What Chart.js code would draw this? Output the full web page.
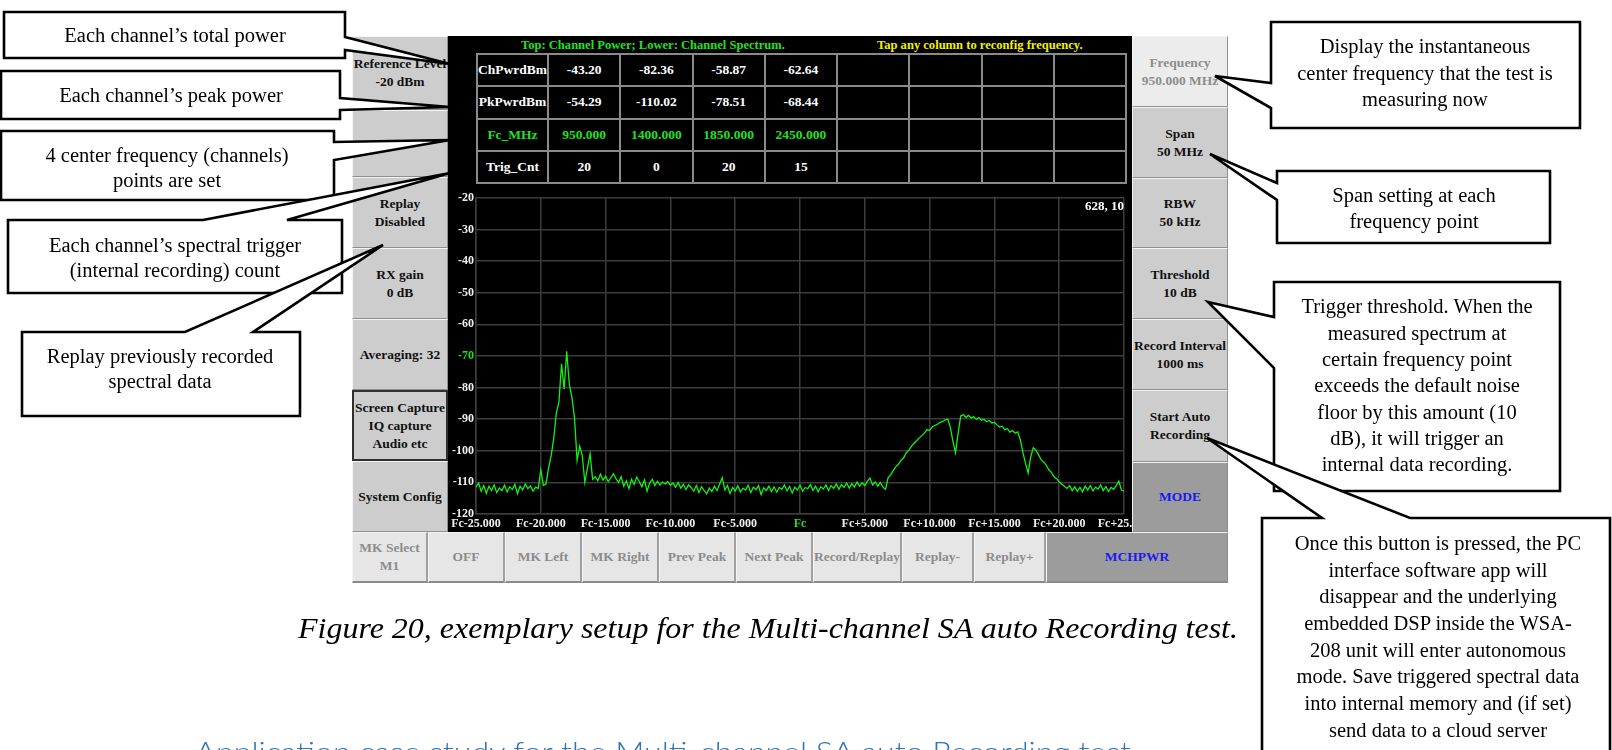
<!DOCTYPE html>
<html><head><meta charset="utf-8">
<script src="https://cdn.jsdelivr.net/npm/chart.js@4.4.1/dist/chart.umd.min.js"></script>
<style>
html,body{margin:0;padding:0;width:1612px;height:750px;overflow:hidden;background:#fff;}
.ui{font-family:'Liberation Serif','Times New Roman',serif;font-weight:bold;}
.btn{position:absolute;box-sizing:border-box;display:flex;flex-direction:column;align-items:center;justify-content:center;text-align:center;font-size:13.5px;line-height:18px;color:#111;background:#cdcdcd;border-top:1px solid #f4f4f4;border-left:1px solid #f4f4f4;border-bottom:1px solid #8f8f8f;border-right:1px solid #8f8f8f;white-space:nowrap;overflow:hidden}
#panel{position:absolute;left:448px;top:36px;width:684px;height:496px;background:#000;}
#hdrG{position:absolute;left:521px;top:37px;height:16px;line-height:16px;font-size:13.5px;color:#22e022;white-space:nowrap;transform:scaleX(0.93);transform-origin:0 0}
#hdrY{position:absolute;left:877px;top:37px;height:16px;line-height:16px;font-size:13.5px;color:#f2f200;white-space:nowrap;transform:scaleX(0.93);transform-origin:0 0}
#tbl{position:absolute;left:476px;top:53px;width:649px;border-collapse:collapse;table-layout:fixed}
#tbl td{border:2px solid #8a8a8a;height:30.3px;padding:0;text-align:center;color:#fff;font-size:13.5px;white-space:nowrap}
#tbl tr.grn td{color:#22e022}
#coord{position:absolute;left:1060px;top:198px;width:64px;text-align:right;font-size:13px;color:#fff;line-height:16px}
#wrap{position:absolute;left:448px;top:186px;width:684px;height:346px;}
svg{position:absolute;left:0;top:0}
</style></head>
<body>
<div id="ui" class="ui"></div>
<div id="panel"></div>
<div id="hdrG" class="ui">Top: Channel Power; Lower: Channel Spectrum.</div>
<div id="hdrY" class="ui">Tap any column to reconfig frequency.</div>
<table id="tbl" class="ui"></table>
<div id="wrap"><canvas id="c" width="684" height="346"></canvas></div>
<div id="coord" class="ui">628, 10</div>
<svg id="ann" width="1612" height="750" xmlns="http://www.w3.org/2000/svg">
<g fill="#fff" stroke="#000" stroke-width="2.6" stroke-linejoin="miter">
<polygon points="4,12 345,12 345,37 450,64 345,50 345,58 4,58"/>
<polygon points="1,71 340,71 340,98 450,107 340,110 340,119 1,119"/>
<polygon points="1,131 334,131 334,142 450,140 334,160 334,200 1,200"/>
<polygon points="8,220 203,220 450,173 287,220 342,220 342,293 8,293"/>
<polygon points="22,332 185,332 383,245 253,332 300,332 300,416 22,416"/>
<polygon points="1271,22 1580,22 1580,128 1271,128 1271,108 1215,76 1271,83"/>
<polygon points="1277,171 1550,171 1550,243 1277,243 1277,200 1210,154 1277,183"/>
<polygon points="1274,282 1560,282 1560,491 1274,491 1274,368 1208,302 1274,317"/>
<polygon points="1262,518 1322,518 1207,438 1410,518 1610,518 1610,770 1262,770"/>
</g>
<g font-family="Liberation Serif, Times New Roman, serif" font-size="20.5" fill="#000" text-anchor="middle">
<text x="175" y="42">Each channel’s total power</text>
<text x="171" y="102">Each channel’s peak power</text>
<text x="167" y="162">4 center frequency (channels)</text>
<text x="167" y="187">points are set</text>
<text x="175" y="252">Each channel’s spectral trigger</text>
<text x="175" y="277">(internal recording) count</text>
<text x="160" y="363">Replay previously recorded</text>
<text x="160" y="388">spectral data</text>
<text x="1425" y="53">Display the instantaneous</text>
<text x="1425" y="80">center frequency that the test is</text>
<text x="1425" y="106">measuring now</text>
<text x="1414" y="202">Span setting at each</text>
<text x="1414" y="228">frequency point</text>
<text x="1417" y="313">Trigger threshold. When the</text>
<text x="1417" y="339.5">measured spectrum at</text>
<text x="1417" y="366">certain frequency point</text>
<text x="1417" y="392">exceeds the default noise</text>
<text x="1417" y="418.5">floor by this amount (10</text>
<text x="1417" y="445">dB), it will trigger an</text>
<text x="1417" y="471">internal data recording.</text>
<text x="1438" y="550">Once this button is pressed, the PC</text>
<text x="1438" y="577">interface software app will</text>
<text x="1438" y="603">disappear and the underlying</text>
<text x="1438" y="630">embedded DSP inside the WSA-</text>
<text x="1438" y="657">208 unit will enter autonomous</text>
<text x="1438" y="683">mode. Save triggered spectral data</text>
<text x="1438" y="710">into internal memory and (if set)</text>
<text x="1438" y="737">send data to a cloud server</text>
</g>
<text x="298" y="638" font-family="Liberation Serif, Times New Roman, serif" font-style="italic" font-size="29" textLength="940" lengthAdjust="spacingAndGlyphs" fill="#000">Figure 20, exemplary setup for the Multi-channel SA auto Recording test.</text>
<text x="195" y="762" font-family="Lato, Open Sans, sans-serif" font-weight="300" font-size="28" textLength="936" lengthAdjust="spacingAndGlyphs" fill="#2e74b5">Application case study for the Multi-channel SA auto Recording test</text>
</svg>
<script>
// ---- spectrum trace (dBm), -25 MHz .. +25 MHz relative to Fc, 0.2 MHz steps ----
const freqStartMHz = -25;
const freqStepMHz = 0.2;
const powerDbm = [
 -111.5,-110.2,-112.8,-111.0,-113.5,
 -111.2,-112.5,-110.8,-113.2,-111.8,
 -112.6,-110.9,-113.0,-111.4,-112.2,
 -110.6,-113.6,-111.2,-112.4,-110.5,
 -112.0,-111.1,-112.8,-111.5,-111.9,
 -106.0,-111.0,-110.5,-105.5,-101.5,
 -96.0,-88.0,-84.5,-72.5,-80.5,
 -68.5,-79.0,-83.0,-89.5,-103.0,
 -98.5,-101.5,-110.0,-105.5,-101.0,
 -109.0,-108.2,-109.5,-107.4,-109.3,
 -108.0,-109.8,-108.6,-107.3,-108.8,
 -110.0,-108.2,-111.2,-109.5,-112.0,
 -109.0,-110.6,-108.3,-109.8,-111.4,
 -109.2,-112.8,-110.2,-109.0,-111.0,
 -109.6,-110.8,-109.9,-110.5,-109.7,
 -110.9,-110.2,-111.5,-110.0,-111.8,
 -110.6,-112.3,-110.8,-111.6,-112.8,
 -111.0,-113.2,-111.4,-112.5,-113.6,
 -111.8,-112.9,-111.2,-112.6,-110.5,
 -108.5,-112.4,-111.0,-113.5,-111.6,
 -112.7,-111.1,-113.0,-111.8,-112.4,
 -110.9,-113.2,-111.5,-112.3,-111.0,
 -113.9,-111.7,-112.6,-111.2,-112.9,
 -111.4,-113.1,-111.6,-112.2,-110.8,
 -112.7,-111.3,-113.4,-111.5,-112.4,
 -110.9,-112.8,-111.6,-112.0,-110.7,
 -112.5,-111.2,-113.0,-111.4,-112.1,
 -110.8,-112.6,-111.0,-111.9,-110.5,
 -112.2,-110.7,-111.6,-110.2,-111.8,
 -110.4,-111.5,-109.9,-111.2,-110.1,
 -111.0,-109.6,-108.6,-110.8,-109.8,
 -111.2,-110.0,-111.5,-112.2,-108.5,
 -107.6,-106.2,-105.0,-104.2,-103.0,
 -102.2,-100.6,-99.8,-98.6,-97.6,
 -96.8,-95.9,-95.2,-94.4,-93.3,
 -93.6,-92.4,-92.0,-91.6,-91.0,
 -90.8,-90.2,-90.0,-92.5,-97.0,
 -100.6,-94.5,-89.0,-88.6,-89.4,
 -88.8,-89.6,-89.2,-90.0,-89.5,
 -90.3,-90.0,-90.8,-90.4,-91.2,
 -91.0,-91.8,-92.5,-92.2,-93.3,
 -93.0,-94.1,-93.6,-94.4,-94.0,
 -96.5,-100.5,-104.0,-107.0,-102.0,
 -99.0,-99.8,-101.2,-102.8,-103.6,
 -104.5,-106.0,-106.8,-108.2,-108.8,
 -109.8,-110.6,-111.2,-111.9,-111.0,
 -112.6,-111.4,-112.8,-111.6,-113.0,
 -111.2,-112.4,-111.0,-112.7,-111.5,
 -112.1,-110.8,-112.6,-111.3,-112.9,
 -111.6,-112.2,-111.0,-109.6,-112.4,
 -112.8
];
const xTickValues = [-25,-20,-15,-10,-5,0,5,10,15,20,25];
const xTickLabels = ['Fc-25.000','Fc-20.000','Fc-15.000','Fc-10.000','Fc-5.000','Fc','Fc+5.000','Fc+10.000','Fc+15.000','Fc+20.000','Fc+25.000'];
const yTickValues = [-120,-110,-100,-90,-80,-70,-60,-50,-40,-30,-20];
const yTickLabels = ['-120','-110','-100','-90','-80','-70','-60','-50','-40','-30','-20'];

// ---- channel table ----
const tableRowNames = ['ChPwrdBm','PkPwrdBm','Fc_MHz','Trig_Cnt'];
const chPwrDbm = ['-43.20','-82.36','-58.87','-62.64'];
const pkPwrDbm = ['-54.29','-110.02','-78.51','-68.44'];
const fcMHz = ['950.000','1400.000','1850.000','2450.000'];
const trigCnt = ['20','0','20','15'];
const emptyCols = 4;

// ---- buttons ----
const leftBtnLabels = [['Reference Level','-20 dBm'],[],['Replay','Disabled'],['RX gain','0 dB'],['Averaging: 32'],['Screen Capture','IQ capture','Audio etc'],['System Config']];
const rightBtnLabels = [['Frequency','950.000 MHz'],['Span','50 MHz'],['RBW','50 kHz'],['Threshold','10 dB'],['Record Interval','1000 ms'],['Start Auto','Recording'],['MODE']];
const bottomBtnLabels = [['MK Select','M1'],['OFF'],['MK Left'],['MK Right'],['Prev Peak'],['Next Peak'],['Record/Replay'],['Replay-'],['Replay+'],['MCHPWR']];

// layout (pixel positions of the UI frame)
const leftBtnY = [36,110,177,248,319,390,461,532];
const rightBtnY = [36,107,178,248,319,390,462,532];
const bottomBtnX = [352,428,505,582,659,736,813,902,974,1046,1228];

const ui = document.getElementById('ui');
function mkBtn(lines, x, y, w, h, extra){
  const d = document.createElement('div');
  d.className = 'btn';
  d.style.left = x+'px'; d.style.top = y+'px'; d.style.width = w+'px'; d.style.height = h+'px';
  Object.assign(d.style, extra||{});
  lines.forEach(t=>{ const s=document.createElement('div'); s.textContent=t; d.appendChild(s); });
  ui.appendChild(d);
}
leftBtnLabels.forEach((l,i)=>{
  const ex = i===5 ? {border:'2px solid #303030'} : {};
  mkBtn(l, 352, leftBtnY[i], 96, leftBtnY[i+1]-leftBtnY[i], ex);
});
rightBtnLabels.forEach((l,i)=>{
  let ex = {};
  if(i===0) ex = {background:'#ececec', color:'#8c8c8c'};
  if(i===6) ex = {background:'#9c9c9c', color:'#1a1aee'};
  mkBtn(l, 1132, rightBtnY[i], 96, rightBtnY[i+1]-rightBtnY[i], ex);
});
bottomBtnLabels.forEach((l,i)=>{
  let ex = {background:'#e6e6e6', color:'#8c8c8c', borderRight:'2px solid #a0a0a0', borderBottom:'2px solid #8a8a8a'};
  if(i===9) ex = {background:'#9c9c9c', color:'#1a1aee', borderBottom:'2px solid #8a8a8a'};
  mkBtn(l, bottomBtnX[i], 532, bottomBtnX[i+1]-bottomBtnX[i], 51, ex);
});

// table
const tbl = document.getElementById('tbl');
const cg = document.createElement('colgroup');
for(let c=0;c<9;c++){ const col=document.createElement('col'); col.style.width = (c===0?71:72.25)+'px'; cg.appendChild(col); }
tbl.appendChild(cg);
[chPwrDbm,pkPwrDbm,fcMHz,trigCnt].forEach((vals,r)=>{
  const tr = document.createElement('tr');
  if(r===2) tr.className='grn';
  const cells = [tableRowNames[r]].concat(vals);
  for(let k=0;k<emptyCols;k++) cells.push('');
  cells.forEach(v=>{ const td=document.createElement('td'); td.textContent=v; tr.appendChild(td); });
  tbl.appendChild(tr);
});

// chart
const pts = powerDbm.map((p,i)=>({x: +(freqStartMHz + i*freqStepMHz).toFixed(2), y: p}));
const tickFont = {family:"'Liberation Serif','Times New Roman',serif", weight:'bold', size:12};
new Chart(document.getElementById('c'), {
  type:'line',
  data:{datasets:[{data:pts, borderColor:'#14f014', borderWidth:1.3, pointRadius:0, tension:0, fill:false}]},
  options:{
    responsive:false, animation:false, devicePixelRatio:1,
    layout:{padding:{top:12,right:8,left:0,bottom:0}},
    plugins:{legend:{display:false}, tooltip:{enabled:false}},
    scales:{
      x:{type:'linear', min:-25, max:25,
         afterBuildTicks:s=>{ s.ticks = xTickValues.map(v=>({value:v})); },
         ticks:{autoSkip:false, maxRotation:0, padding:3, font:tickFont,
           color:c=> c.tick && c.tick.value===0 ? '#22e022' : '#f0f0f0',
           callback:(v)=> xTickLabels[xTickValues.indexOf(v)]},
         grid:{color:'#3c3c3c', drawTicks:false, lineWidth:1.5},
         border:{color:'#3c3c3c', width:1.5},
         afterFit:s=>{ s.height=18; s.paddingLeft=0; s.paddingRight=0; }},
      y:{type:'linear', min:-120, max:-20,
         afterBuildTicks:s=>{ s.ticks = yTickValues.map(v=>({value:v})); },
         ticks:{autoSkip:false, padding:2, font:tickFont,
           color:c=> c.tick && c.tick.value===-70 ? '#22e022' : '#f0f0f0',
           callback:(v)=> yTickLabels[yTickValues.indexOf(v)]},
         grid:{color:'#3c3c3c', drawTicks:false, lineWidth:1.5},
         border:{color:'#3c3c3c', width:1.5},
         afterFit:s=>{ s.width=28; s.paddingTop=0; s.paddingBottom=0; }}
    }
  }
});
</script>
</body></html>
